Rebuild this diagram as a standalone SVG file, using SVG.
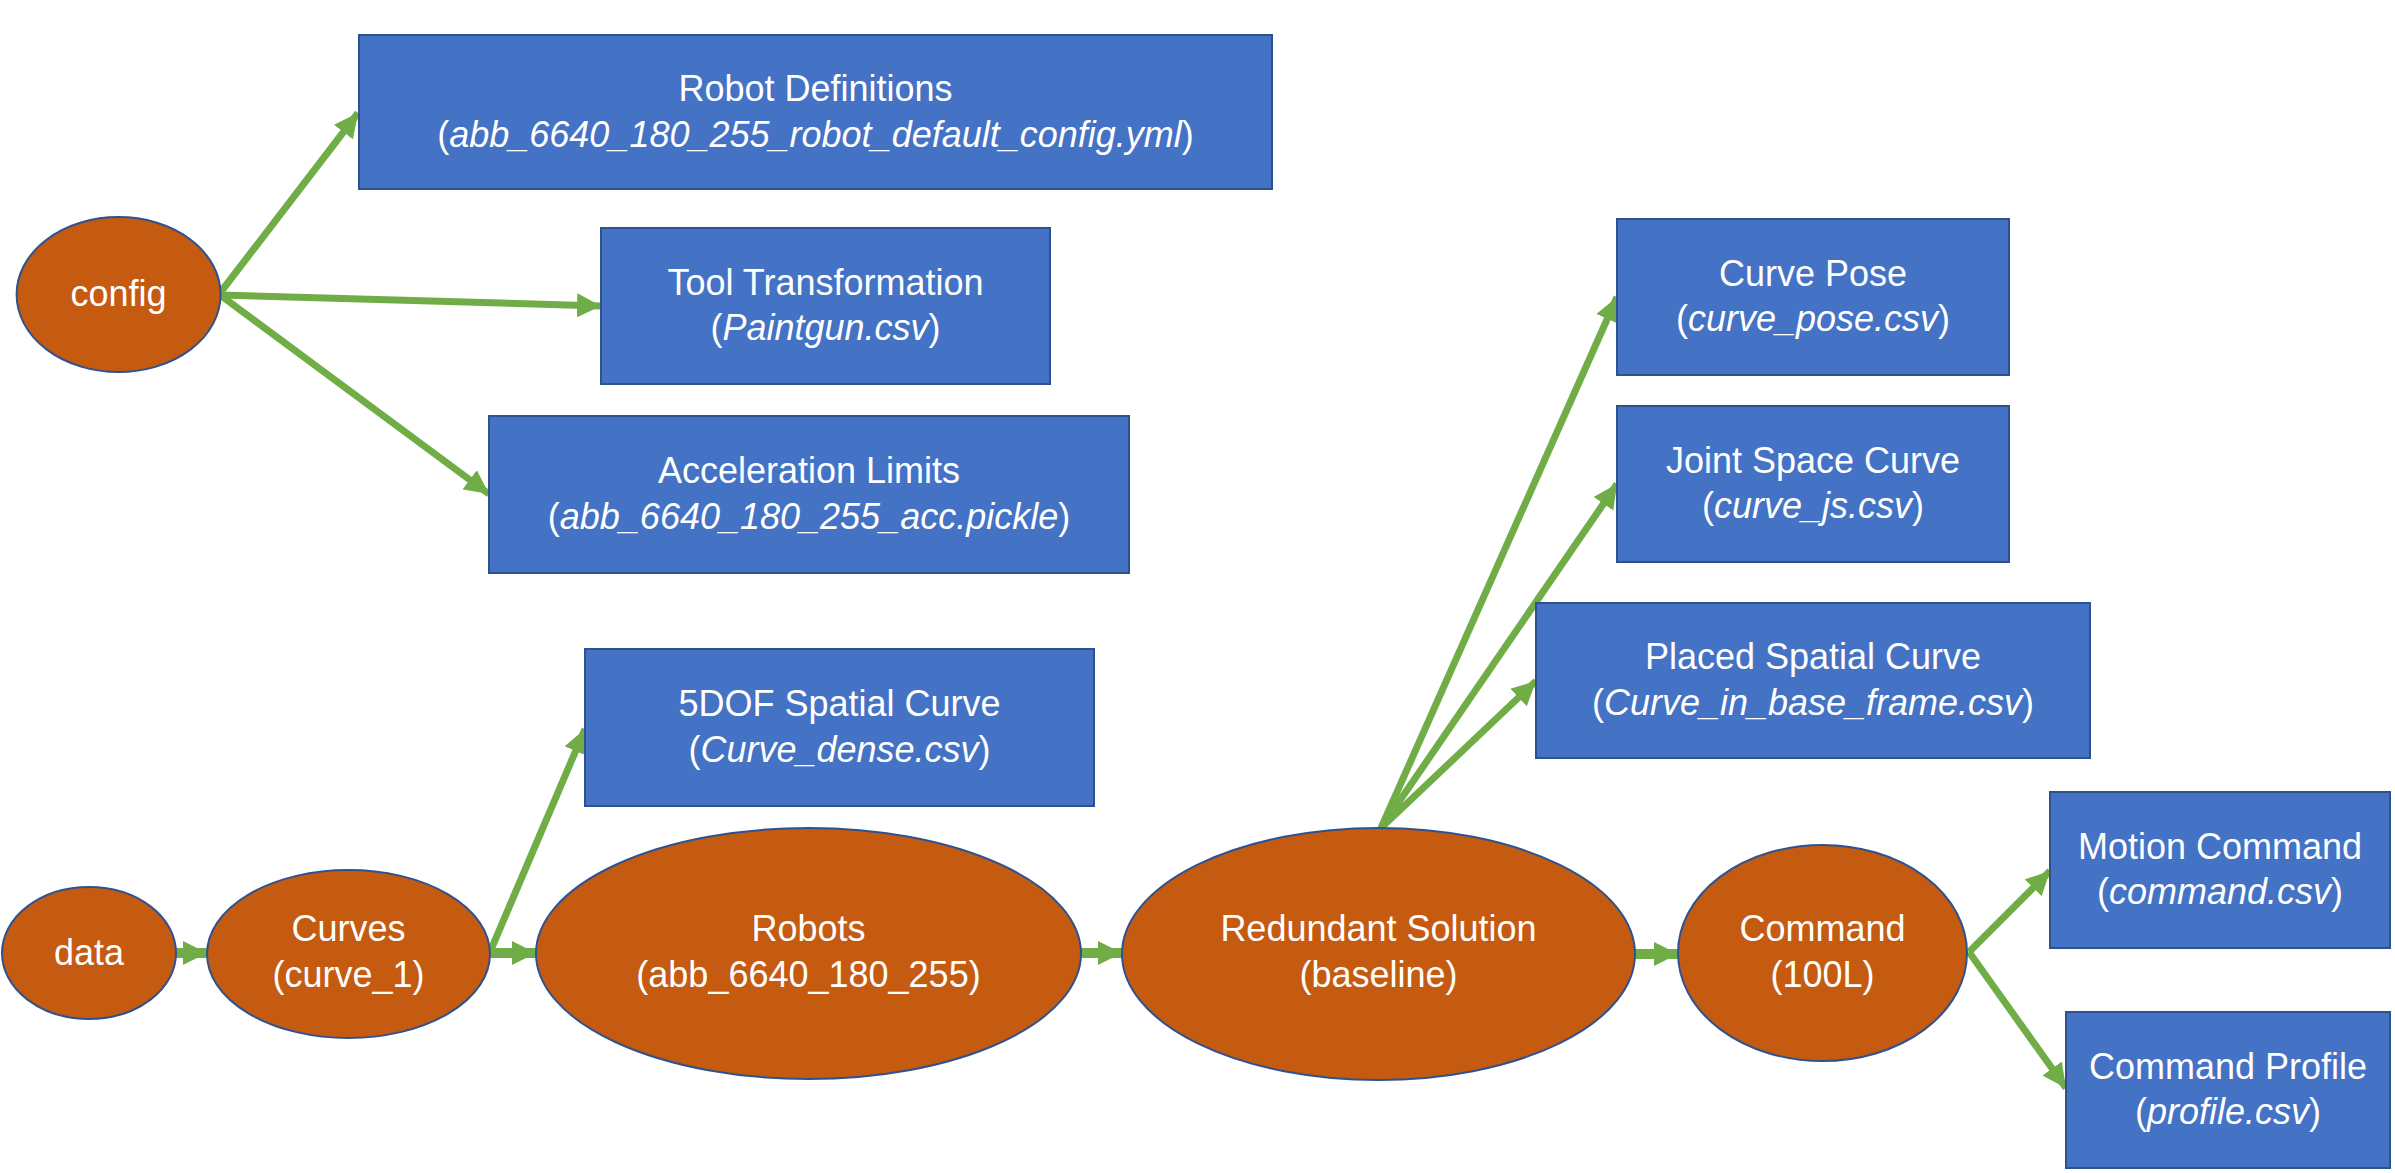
<svg xmlns="http://www.w3.org/2000/svg" width="2395" height="1173" viewBox="0 0 2395 1173">
<style>
.box{fill:#4472C4;stroke:#2F528F;stroke-width:2}
.ell{fill:#C55A11;stroke:#2F528F;stroke-width:2}
.t{font-family:"Liberation Sans",Arial,sans-serif;font-size:36px;fill:#FFFFFF;text-anchor:middle}
.i{font-style:italic}
.c{stroke:#70AD47;stroke-width:7;fill:none;marker-end:url(#ah)}
.s{stroke-width:10}
</style>
<defs>
<marker id="ah" markerUnits="userSpaceOnUse" markerWidth="24" markerHeight="24" viewBox="0 0 24 24" refX="24" refY="12" orient="auto">
<path d="M0,0 L24,12 L0,24 z" fill="#70AD47"/>
</marker>
</defs>
<rect width="2395" height="1173" fill="#FFFFFF"/>
<g id="connectors">
<line class="c" x1="220" y1="293" x2="358" y2="113"/>
<line class="c" x1="220" y1="295" x2="601" y2="306"/>
<line class="c" x1="220" y1="295" x2="489" y2="494"/>
<line class="c s" x1="176" y1="953" x2="207" y2="953"/>
<line class="c" x1="490" y1="952" x2="585" y2="729"/>
<line class="c s" x1="490" y1="953" x2="536" y2="953"/>
<line class="c s" x1="1081" y1="953" x2="1122" y2="953"/>
<line class="c" x1="1381" y1="828" x2="1617" y2="297"/>
<line class="c" x1="1381" y1="828" x2="1617" y2="484"/>
<line class="c" x1="1381" y1="828" x2="1536" y2="681"/>
<line class="c s" x1="1635" y1="954" x2="1678" y2="954"/>
<line class="c" x1="1969" y1="952" x2="2050" y2="871"/>
<line class="c" x1="1969" y1="952" x2="2066" y2="1088"/>
</g>
<g id="config">
<ellipse class="ell" cx="118.6" cy="294.6" rx="102" ry="77.5"/>
<text class="t" x="118.6" y="306">config</text>
</g>
<g id="robot-definitions">
<rect class="box" x="359" y="35" width="913" height="154"/>
<text class="t" x="815.5" y="101">Robot Definitions</text>
<text class="t" x="815.5" y="147">(<tspan class="i">abb_6640_180_255_robot_default_config.yml</tspan>)</text>
</g>
<g id="tool-transformation">
<rect class="box" x="601" y="228" width="449" height="156"/>
<text class="t" x="825.5" y="295">Tool Transformation</text>
<text class="t" x="825.5" y="340">(<tspan class="i">Paintgun.csv</tspan>)</text>
</g>
<g id="acceleration-limits">
<rect class="box" x="489" y="416" width="640" height="157"/>
<text class="t" x="809" y="483">Acceleration Limits</text>
<text class="t" x="809" y="529">(<tspan class="i">abb_6640_180_255_acc.pickle</tspan>)</text>
</g>
<g id="curve-pose">
<rect class="box" x="1617" y="219" width="392" height="156"/>
<text class="t" x="1813" y="286">Curve Pose</text>
<text class="t" x="1813" y="331">(<tspan class="i">curve_pose.csv</tspan>)</text>
</g>
<g id="joint-space-curve">
<rect class="box" x="1617" y="406" width="392" height="156"/>
<text class="t" x="1813" y="473">Joint Space Curve</text>
<text class="t" x="1813" y="518">(<tspan class="i">curve_js.csv</tspan>)</text>
</g>
<g id="placed-spatial-curve">
<rect class="box" x="1536" y="603" width="554" height="155"/>
<text class="t" x="1813" y="669">Placed Spatial Curve</text>
<text class="t" x="1813" y="715">(<tspan class="i">Curve_in_base_frame.csv</tspan>)</text>
</g>
<g id="5dof-spatial-curve">
<rect class="box" x="585" y="649" width="509" height="157"/>
<text class="t" x="839.5" y="716">5DOF Spatial Curve</text>
<text class="t" x="839.5" y="762">(<tspan class="i">Curve_dense.csv</tspan>)</text>
</g>
<g id="motion-command">
<rect class="box" x="2050" y="792" width="340" height="156"/>
<text class="t" x="2220" y="859">Motion Command</text>
<text class="t" x="2220" y="904">(<tspan class="i">command.csv</tspan>)</text>
</g>
<g id="command-profile">
<rect class="box" x="2066" y="1012" width="324" height="156"/>
<text class="t" x="2228" y="1079">Command Profile</text>
<text class="t" x="2228" y="1124">(<tspan class="i">profile.csv</tspan>)</text>
</g>
<g id="data">
<ellipse class="ell" cx="89" cy="953" rx="87" ry="66"/>
<text class="t" x="89" y="965">data</text>
</g>
<g id="curves">
<ellipse class="ell" cx="348.5" cy="954" rx="141.5" ry="84"/>
<text class="t" x="348.5" y="941">Curves</text>
<text class="t" x="348.5" y="987">(curve_1)</text>
</g>
<g id="robots">
<ellipse class="ell" cx="808.5" cy="953.5" rx="272.5" ry="125.5"/>
<text class="t" x="808.5" y="941">Robots</text>
<text class="t" x="808.5" y="987">(abb_6640_180_255)</text>
</g>
<g id="redundant-solution">
<ellipse class="ell" cx="1378.5" cy="954" rx="256.5" ry="126"/>
<text class="t" x="1378.5" y="941">Redundant Solution</text>
<text class="t" x="1378.5" y="987">(baseline)</text>
</g>
<g id="command">
<ellipse class="ell" cx="1822.5" cy="953" rx="144.5" ry="108"/>
<text class="t" x="1822.5" y="941">Command</text>
<text class="t" x="1822.5" y="987">(100L)</text>
</g>
</svg>
